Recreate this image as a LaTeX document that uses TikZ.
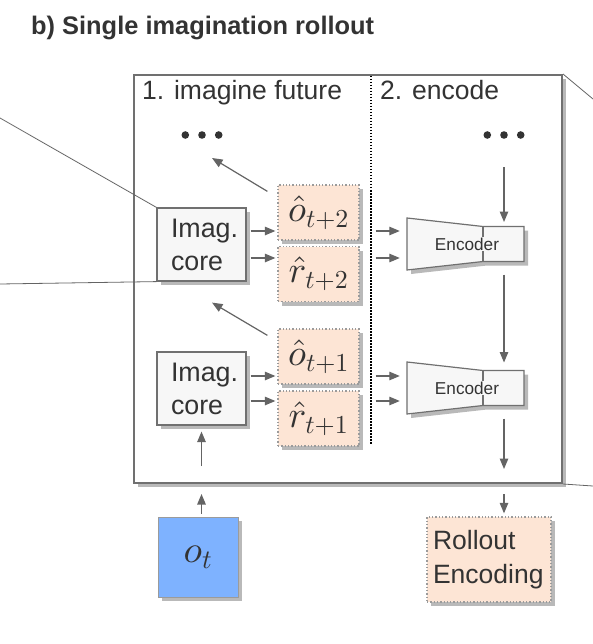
\documentclass[tikz,border=0pt]{standalone}
\usepackage[no-math]{fontspec}
\setmainfont{Liberation Sans}
\DeclareFontFamily{OML}{cmm}{\skewchar\font'177}
\DeclareFontShape{OML}{cmm}{m}{it}{<->cmmi10}{}
\DeclareFontFamily{OT1}{cmr}{\hyphenchar\font45}
\DeclareFontShape{OT1}{cmr}{m}{n}{<->cmr10}{}
\DeclareFontFamily{OMS}{cmsy}{\skewchar\font'60}
\DeclareFontShape{OMS}{cmsy}{m}{n}{<->cmsy10}{}
\usetikzlibrary{arrows.meta,shadows,calc}
\definecolor{txt}{RGB}{51,51,51}
\definecolor{arrc}{RGB}{100,100,100}
\definecolor{bord}{RGB}{112,112,112}
\definecolor{shadc}{RGB}{185,185,185}
\definecolor{peach}{RGB}{253,229,213}
\definecolor{corefill}{RGB}{247,247,247}
\definecolor{blueo}{RGB}{126,178,255}
\definecolor{dotb}{RGB}{155,155,155}
\tikzset{
  shd/.style={drop shadow={shadow xshift=4pt,shadow yshift=-4pt,fill=shadc,opacity=1}},
  core/.style={draw=bord, line width=1.2pt, fill=corefill, shd, text width=61pt, inner xsep=14pt,
    minimum height=73pt, align=left, text=txt, font=\fontsize{26.8}{33}\selectfont},
  pred/.style={draw=dotb, dotted, line width=1.3pt, fill=peach, shd, minimum width=81pt,
    minimum height=55pt, inner sep=0pt, text=txt, font=\fontsize{37}{40}\selectfont},
  arr/.style={draw=arrc, line width=1.2pt, -{Triangle[length=10.5pt,width=8.5pt]}},
  thinl/.style={draw=arrc, line width=0.8pt},
  enctext/.style={fill=corefill, inner sep=1pt, text=txt, font=\fontsize{17.2}{20}\selectfont},
  lab/.style={anchor=base west, text=txt, inner sep=0pt, font=\fontsize{26.5}{30}\selectfont},
}
\newcommand\encblock[3]{%
  \fill[shadc] (#2-54.5,#3-22) -- (#2+21.5,#3-13.5) -- (#2+62.5,#3-13.5) -- (#2+62.5,#3+21.5) -- (#2+21.5,#3+21.5) -- (#2-54.5,#3+30) -- cycle;
  \draw[draw=bord, line width=1.2pt, fill=corefill] (#2-58.5,#3-26) -- (#2+17.5,#3-17.5) -- (#2+58.5,#3-17.5) -- (#2+58.5,#3+17.5) -- (#2+17.5,#3+17.5) -- (#2-58.5,#3+26) -- cycle;
  \draw[draw=bord, line width=1.2pt] (#2+17.5,#3-17.5) -- (#2+17.5,#3+17.5);
  \node[minimum width=117pt, minimum height=52pt, inner sep=0pt] (#1) at (#2,#3) {};
  \node[enctext] (#1t) at (#2+1.5,#3) {Encoder};
  \coordinate (#1top) at (#2+38.5,#3-17.5);
  \coordinate (#1bot) at (#2+38.5,#3+17.5);
}
\begin{document}
\begin{tikzpicture}[x=1pt,y=-1pt]
\useasboundingbox (0,0) rectangle (593,644);
% title
\node[anchor=base west, inner sep=0pt, text=txt, font=\fontsize{25.4}{30}\selectfont\bfseries] (title) at (31,35) {b) Single imagination rollout};
% frame
\node[draw=bord, line width=2pt, fill=white, shd, minimum width=428pt, minimum height=408pt, inner sep=0pt] (frame) at (348,279) {};
\draw[black, line width=1.8pt, dash pattern=on 1.5pt off 1.5pt] (371,76) -- (371,445);
\node[lab] (lab1) at (142,100) {1. imagine future};
\node[lab] (lab2) at (380,100) {2. encode};
% dots
\node[minimum width=42pt, minimum height=8pt, inner sep=0pt] (dotsL) at (202,135) {};
\node[minimum width=42pt, minimum height=8pt, inner sep=0pt] (dotsR) at (504,135) {};
\foreach \dx in {-16.7,0,16.7} {
  \fill[txt] ($(dotsL.center)+(\dx,0)$) circle (3.8pt);
  \fill[txt] ($(dotsR.center)+(\dx,0)$) circle (3.8pt);
}
% cores
\node[core] (core2) at (201.5,244.5) {Imag.\\core};
\node[core] (core1) at (201.5,388.5) {Imag.\\core};
% predictions
\node[pred] (o2) at (318.5,212.5) {$\hat{o}_{t+2}$};
\node[pred] (r2) at (318.5,274) {$\hat{r}_{t+2}$};
\node[pred] (o1) at (318.5,356.5) {$\hat{o}_{t+1}$};
\node[pred] (r1) at (318.5,418.5) {$\hat{r}_{t+1}$};
% encoders
\encblock{enc2}{465.5}{244}
\encblock{enc1}{465.5}{388}
% bottom boxes
\node[draw=dotb, line width=1pt, fill=blueo, shd, minimum width=80pt, minimum height=80pt, inner sep=0pt, text=txt, font=\fontsize{38}{40}\selectfont] (ot) at (198,557) {$o_t$};
\node[draw=dotb, dotted, line width=1.3pt, fill=peach, shd, text width=112pt, inner xsep=6pt, minimum height=85pt, align=left, text=txt, font=\fontsize{26.5}{34}\selectfont] (roll) at (489,559.5) {Rollout\\Encoding};
% side lines
\coordinate (L1) at (0,118);
\coordinate (L2) at (0,284);
\coordinate (R1) at (593,99);
\coordinate (R2) at (593,486);
\draw[thinl] (L1) -- (core2.north west);
\draw[thinl] (L2) -- (core2.south west);
\draw[thinl] (frame.north east) -- (R1);
\draw[thinl] (frame.south east) -- (R2);
% helper coordinates
\path ($(core2.east)+(0,-13.5)$) coordinate (c2a) ($(core2.east)+(0,13.5)$) coordinate (c2b)
      ($(core1.east)+(0,-12.5)$) coordinate (c1a) ($(core1.east)+(0,12.5)$) coordinate (c1b);
\coordinate (fbL) at (core1.south |- frame.south);
\coordinate (fbR) at (enc1bot |- frame.south);
% core -> predictions
\foreach \c/\t in {c2a/o2, c2b/r2, c1a/o1, c1b/r1} {
  \draw[arr, shorten <=4pt, shorten >=2pt] (\c) -- (\c -| \t.west);
  \draw[arr, shorten <=16pt, shorten >=7pt] (\c -| \t.east) -- (\c -| enc2.west);
}
% diagonal arrows
\draw[arr] ($(o2.north west)+(-10,7)$) -- ($(dotsL.center)+(10,23)$);
\draw[arr] ($(o1.north west)+(-10,7)$) -- ($(core2.south)+(10.5,21)$);
% vertical arrows
\draw[arr, shorten <=28pt, shorten >=4.5pt] (dotsR.south) -- (enc2top);
\draw[arr, shorten <=13pt, shorten >=8pt] (enc2bot) -- (enc1top);
\draw[arr, shorten <=13pt, shorten >=15pt] (enc1bot) -- (fbR);
\draw[arr, shorten <=10pt, shorten >=3pt] (fbR) -- (fbR |- roll.north);
\draw[arr, shorten <=3pt, shorten >=10pt] (fbL |- ot.north) -- (fbL);
\draw[arr, shorten <=18pt, shorten >=6pt] (fbL) -- (core1.south);
\end{tikzpicture}
\end{document}
